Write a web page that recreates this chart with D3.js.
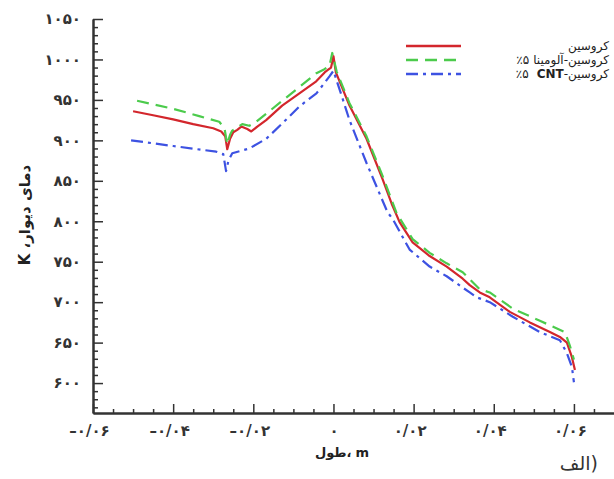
<!DOCTYPE html>
<html>
<head>
<meta charset="utf-8">
<script src="https://cdn.jsdelivr.net/npm/d3@7"></script>
<style>
  body { margin: 0; background: #fff; }
  .axis path, .axis line { stroke: #333; }
  .axis path { stroke-width: 2px; }
  .axis line { stroke-width: 1.5px; }
  .axis text { font-family: "DejaVu Sans", sans-serif; font-weight: bold; font-size: 15px; fill: #333; letter-spacing: 0.5px; }
</style>
</head>
<body>
<div id="chart"></div>
<script>
var width = 614;
var height = 479;

// tick values and labels (persian digits as in the picture)
var yTicks = [600, 650, 700, 750, 800, 850, 900, 950, 1000, 1050];
var yTickLabels = ["۶۰۰", "۶۵۰", "۷۰۰", "۷۵۰", "۸۰۰", "۸۵۰", "۹۰۰", "۹۵۰", "۱۰۰۰", "۱۰۵۰"];
var xTicks = [-0.6, -0.4, -0.2, 0, 0.2, 0.4, 0.6];
var xTickLabels = ["–۰/۰۶", "–۰/۰۴", "–۰/۰۲", "۰", "۰/۰۲", "۰/۰۴", "۰/۰۶"];
var xMinor = [-0.55, -0.5, -0.45, -0.35, -0.3, -0.25, -0.15, -0.1, -0.05,
              0.05, 0.1, 0.15, 0.25, 0.3, 0.35, 0.45, 0.5, 0.55, 0.65];

var seriesNames = ["کروسین", "کروسین-آلومینا ۵٪", "کروسین-CNT ۵٪"];

// [length m, wall temp K]
var kerosene = [
  [-0.50, 936], [-0.45, 931], [-0.40, 926], [-0.35, 920], [-0.30, 915],
  [-0.28, 911], [-0.27, 905], [-0.265, 889], [-0.258, 902], [-0.25, 910],
  [-0.24, 913], [-0.23, 917], [-0.215, 914], [-0.205, 911], [-0.19, 917],
  [-0.168, 925], [-0.128, 943], [-0.085, 958], [-0.043, 973], [-0.022, 984],
  [-0.014, 987], [-0.006, 990], [0.0, 1004], [0.006, 984], [0.04, 943],
  [0.0825, 902], [0.1225, 852], [0.145, 822], [0.165, 799], [0.1975, 774],
  [0.24, 757], [0.2825, 744], [0.3225, 729], [0.34, 721], [0.365, 712],
  [0.39, 706], [0.44, 688], [0.49, 675], [0.54, 663], [0.565, 657],
  [0.5825, 650], [0.595, 632], [0.6025, 616]
];
var alumina = [
  [-0.49, 949], [-0.40, 939], [-0.335, 930], [-0.285, 923], [-0.272, 915],
  [-0.265, 895], [-0.258, 907], [-0.2525, 912], [-0.2275, 920], [-0.21, 918],
  [-0.195, 922], [-0.1675, 933], [-0.11, 956], [-0.0425, 983], [-0.0225, 988],
  [-0.01, 992], [-0.003, 1008], [0.008, 985], [0.04, 946], [0.0825, 905],
  [0.1225, 856], [0.1575, 810], [0.1975, 778], [0.24, 761], [0.2825, 748],
  [0.3225, 737], [0.365, 716], [0.39, 712], [0.4475, 692], [0.515, 677],
  [0.5775, 663], [0.59, 646], [0.6, 629]
];
var cnt = [
  [-0.505, 900], [-0.40, 893], [-0.2925, 886], [-0.275, 883], [-0.268, 862],
  [-0.262, 875], [-0.2525, 884], [-0.21, 890], [-0.1675, 902], [-0.1275, 921],
  [-0.085, 942], [-0.0425, 958], [-0.01, 979], [0.0, 986], [0.0225, 952],
  [0.04, 925], [0.0825, 872], [0.135, 811], [0.1475, 803], [0.19, 765],
  [0.24, 744], [0.2825, 732], [0.3225, 718], [0.34, 712], [0.3575, 706],
  [0.39, 700], [0.4475, 682], [0.515, 663], [0.565, 653], [0.5825, 637],
  [0.595, 620], [0.6, 601]
];

var colors = ["#d3262c", "#4ccb4c", "#3d52e2"];
var dashes = [null, "12,7", "12,5,3,5"];
var seriesData = [kerosene, alumina, cnt];

var svg = d3.select("#chart").append("svg")
  .attr("width", width)
  .attr("height", height);

/* Scales */
var x = d3.scaleLinear().domain([-0.6, 0.7]).range([93, 614]);
var y = d3.scaleLinear().domain([563, 1050]).range([413, 19]);

/* Axes */
var yMinor = d3.range(570, 1050, 10).filter(v => v % 50 != 0);

svg.append("g")
  .attr("class", "axis")
  .attr("transform", `translate(${x(-0.6)},0)`)
  .call(d3.axisLeft(y).tickValues(yMinor).tickFormat("").tickSize(-5).tickSizeOuter(0));

svg.append("g")
  .attr("class", "axis")
  .attr("transform", `translate(${x(-0.6)},0)`)
  .call(d3.axisLeft(y).tickValues(yTicks).tickFormat((d, i) => yTickLabels[i])
    .tickSize(-10).tickSizeOuter(0).tickPadding(12));

svg.append("g")
  .attr("class", "axis")
  .attr("transform", `translate(0,${y(563)})`)
  .call(d3.axisBottom(x).tickValues(xMinor).tickFormat("").tickSize(-4).tickSizeOuter(0));

svg.append("g")
  .attr("class", "axis")
  .attr("transform", `translate(0,${y(563)})`)
  .call(d3.axisBottom(x).tickValues(xTicks).tickFormat((d, i) => xTickLabels[i])
    .tickSize(-9).tickSizeOuter(0).tickPadding(12))
  .selectAll("text")
  .attr("dx", d => d == 0 ? 0 : -4);

/* Lines */
var line = d3.line()
  .x(d => x(d[0]))
  .y(d => y(d[1]));

svg.append("g")
  .selectAll("path")
  .data(seriesData)
  .enter()
  .append("path")
  .attr("d", d => line(d))
  .attr("fill", "none")
  .attr("stroke", (d, i) => colors[i])
  .attr("stroke-width", 2.2)
  .attr("stroke-dasharray", (d, i) => dashes[i])
  .attr("stroke-linejoin", "round");

// lays text pieces out left to right (visual order), so bidi can't shuffle them
function pieces(parent, list, xAnchor, yy, align, style) {
  var g = parent.append("g");
  var cx = 0;
  list.forEach(function(p) {
    var t = g.append("text")
      .attr("x", cx)
      .attr("y", yy)
      .style("font-family", "DejaVu Sans, sans-serif")
      .style("font-size", style.size)
      .style("font-weight", p.bold ? "bold" : style.weight)
      .style("fill", style.fill)
      .text(p.t);
    cx += t.node().getComputedTextLength() + (p.gap || 0);
  });
  var shift = align == "end" ? xAnchor - cx : (align == "middle" ? xAnchor - cx / 2 : xAnchor);
  g.attr("transform", `translate(${shift},0)`);
  return g;
}

/* Legend */
var legend = svg.append("g").attr("class", "legend");
var legendY = [46, 60, 74];
var legendStyle = { size: "12px", weight: "normal", fill: "#222" };

seriesNames.forEach(function(name, i) {
  legend.append("line")
    .attr("x1", 406).attr("x2", 461)
    .attr("y1", legendY[i]).attr("y2", legendY[i])
    .attr("stroke", colors[i])
    .attr("stroke-width", 2.5)
    .attr("stroke-dasharray", dashes[i]);
});
pieces(legend, [{ t: "کروسین" }], 609, legendY[0] + 4, "end", legendStyle);
pieces(legend, [{ t: "٪۵", gap: 4 }, { t: "آلومینا" }, { t: "-" }, { t: "کروسین" }], 609, legendY[1] + 4, "end", legendStyle);
pieces(legend, [{ t: "٪۵", gap: 8 }, { t: "CNT", bold: true }, { t: "-" }, { t: "کروسین" }], 609, legendY[2] + 4, "end", legendStyle);

/* Titles */
svg.append("text")
  .attr("transform", "translate(30,215) rotate(-90)")
  .attr("direction", "rtl")
  .attr("text-anchor", "middle")
  .style("font-family", "DejaVu Sans, sans-serif")
  .style("font-weight", "bold")
  .style("font-size", "15px")
  .style("fill", "#222")
  .text("دمای دیوار، K");

pieces(svg, [{ t: "طول" }, { t: "،", gap: 4 }, { t: "m" }], 342, 457, "middle",
  { size: "13px", weight: "bold", fill: "#222" });

pieces(svg, [{ t: "الف" }, { t: ")" }], 598, 470, "end",
  { size: "19px", weight: "normal", fill: "#333" });
</script>
</body>
</html>
